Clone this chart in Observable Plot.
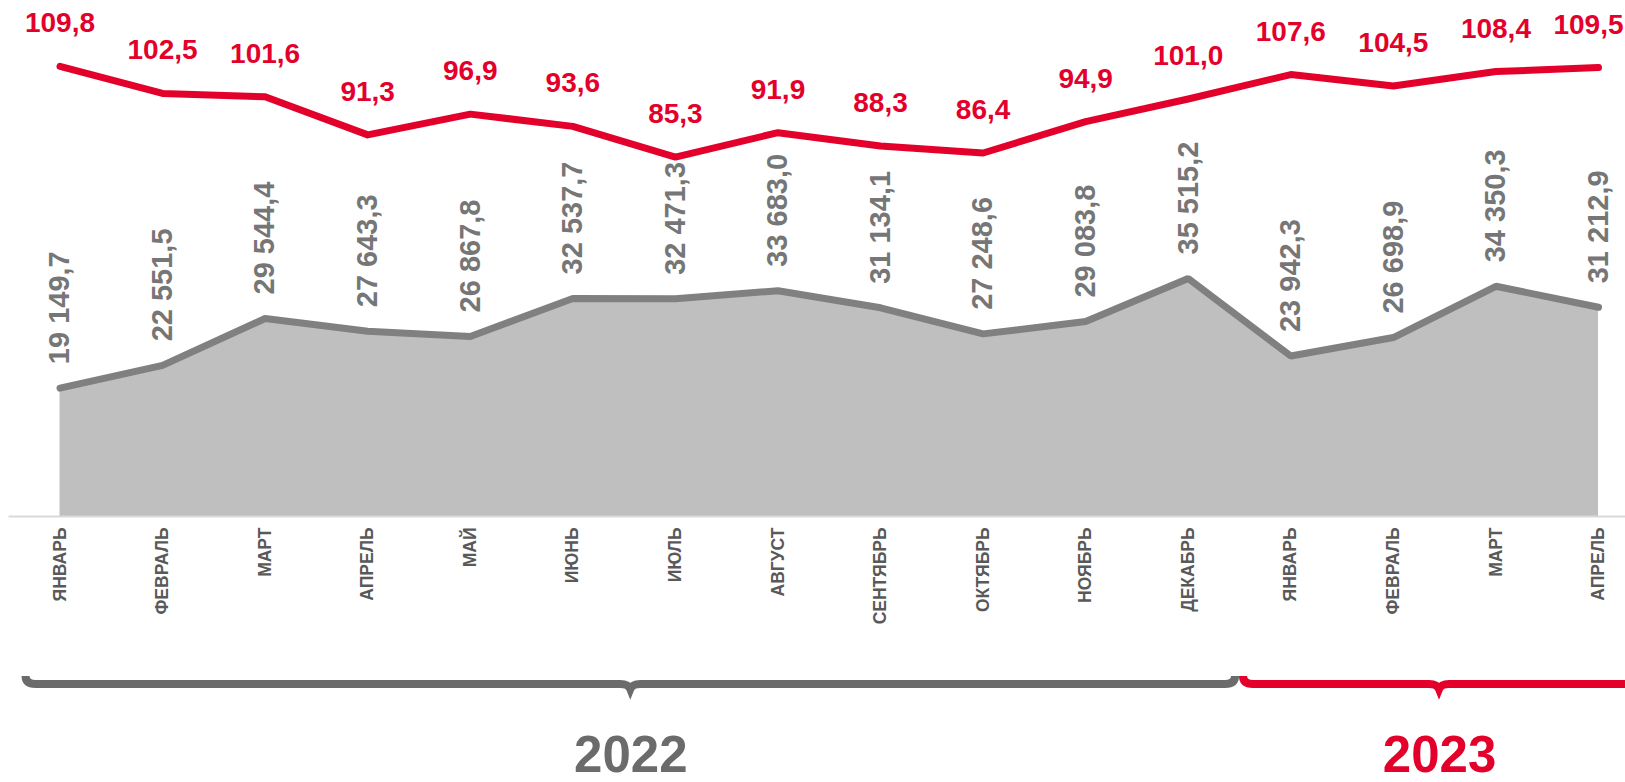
<!DOCTYPE html>
<html><head><meta charset="utf-8">
<script src="https://cdn.jsdelivr.net/npm/d3@7"></script>
<script src="https://cdn.jsdelivr.net/npm/@observablehq/plot@0.6"></script>
<style>html,body{margin:0;padding:0;background:#fff;overflow:hidden} svg{display:block}</style>
</head><body><div id="chart"></div>
<script>
// ---- data ----
const months = ["ЯНВАРЬ","ФЕВРАЛЬ","МАРТ","АПРЕЛЬ","МАЙ","ИЮНЬ","ИЮЛЬ","АВГУСТ","СЕНТЯБРЬ","ОКТЯБРЬ","НОЯБРЬ","ДЕКАБРЬ","ЯНВАРЬ","ФЕВРАЛЬ","МАРТ","АПРЕЛЬ"];
const volume = [19149.7, 22551.5, 29544.4, 27643.3, 26867.8, 32537.7, 32471.3, 33683.0, 31134.1, 27248.6, 29083.8, 35515.2, 23942.3, 26698.9, 34350.3, 31212.9];
const indexValues = [109.8, 102.5, 101.6, 91.3, 96.9, 93.6, 85.3, 91.9, 88.3, 86.4, 94.9, 101.0, 107.6, 104.5, 108.4, 109.5];
const years = ["2022", "2023"];
const yearFirst = [0, 12];
const yearLast = [11, 15];

// ---- styles ----
const RED = "#e3002b";
const FONT = "'Liberation Sans', Arial, Helvetica, sans-serif";
const yearColors = ["#6b6b6b", RED];
const padL = [0.37, 0.5], padR = [0.5, 0.4];

const data = months.map((m, i) => ({i, month: m, volume: volume[i], index: indexValues[i]}));
const loc = d3.formatLocale({decimal: ",", thousands: " ", grouping: [3], currency: ["", ""]});
const fmtBig = loc.format(",.1f");
const fmtIdx = loc.format(".1f");

const Y_MAX = 74000;
// secondary axis for the index line
const y2 = d3.scaleLinear().domain([-11.8, 122.2]).range([0, Y_MAX]);

const yearData = years.map((y, k) => ({
  year: y, k,
  center: ((yearFirst[k] - padL[k]) + (yearLast[k] + padR[k])) / 2
}));

function braces(index, scales, values, dims) {
  const g = d3.create("svg:g");
  const y0 = dims.height - dims.marginBottom + 168;
  years.forEach((yr, k) => {
    const x1 = scales.x(yearFirst[k] - padL[k]);
    const x2 = scales.x(yearLast[k] + padR[k]);
    const xm = (x1 + x2) / 2, r = 10;
    const p = `M${x1+4},${y0-8} Q${x1+4},${y0} ${x1+4+r},${y0} L${xm-r},${y0} Q${xm-2},${y0} ${xm},${y0+5} Q${xm+2},${y0} ${xm+r},${y0} L${x2-4-r},${y0} Q${x2-4},${y0} ${x2-4},${y0-8}`;
    g.append("path").attr("d", p).attr("fill", "none")
      .attr("stroke", yearColors[k]).attr("stroke-width", 8);
  });
  return g.node();
}

const chart = Plot.plot({
  width: 1625,
  height: 782,
  marginLeft: 59.5,
  marginRight: 27,
  marginTop: 20,
  marginBottom: 266,
  style: {fontFamily: FONT, background: "#fff"},
  x: {domain: [0, 15], axis: null},
  y: {domain: [0, Y_MAX], axis: null},
  marks: [
    Plot.areaY(data, {x: "i", y: "volume", fill: "#bfbfbf"}),
    Plot.line(data, {x: "i", y: "volume", stroke: "#808080", strokeWidth: 7, strokeLinejoin: "miter"}),
    Plot.ruleY([0], {stroke: "#d9d9d9", strokeWidth: 2, insetLeft: -51, insetRight: -27}),
    Plot.line(data, {x: "i", y: d => y2(d.index), stroke: RED, strokeWidth: 7, strokeLinejoin: "round", strokeLinecap: "round"}),
    Plot.text(data, {x: "i", y: "volume", text: d => fmtBig(d.volume), rotate: -90, textAnchor: "start", lineAnchor: "middle", dy: -24, fontSize: 29, fontWeight: "bold", fill: "#767676"}),
    Plot.text(data.slice(0, -1), {x: "i", y: d => y2(d.index), text: d => fmtIdx(d.index), lineAnchor: "bottom", dy: -34, fontSize: 28, fontWeight: "bold", fill: RED}),
    Plot.text(data.slice(-1), {x: "i", y: d => y2(d.index), text: d => fmtIdx(d.index), lineAnchor: "bottom", textAnchor: "end", dx: 25, dy: -34, fontSize: 28, fontWeight: "bold", fill: RED}),
    Plot.text(data, {x: "i", text: "month", frameAnchor: "bottom", dy: 11, rotate: -90, textAnchor: "end", lineAnchor: "middle", fontSize: 17.5, fontWeight: "bold", fill: "#595959"}),
    braces,
    Plot.text(yearData, {x: "center", text: "year", frameAnchor: "bottom", dy: 255, lineAnchor: "bottom", fontSize: 51, fontWeight: "bold", fill: d => yearColors[d.k]})
  ]
});
document.getElementById("chart").appendChild(chart);
</script>
</body></html>
